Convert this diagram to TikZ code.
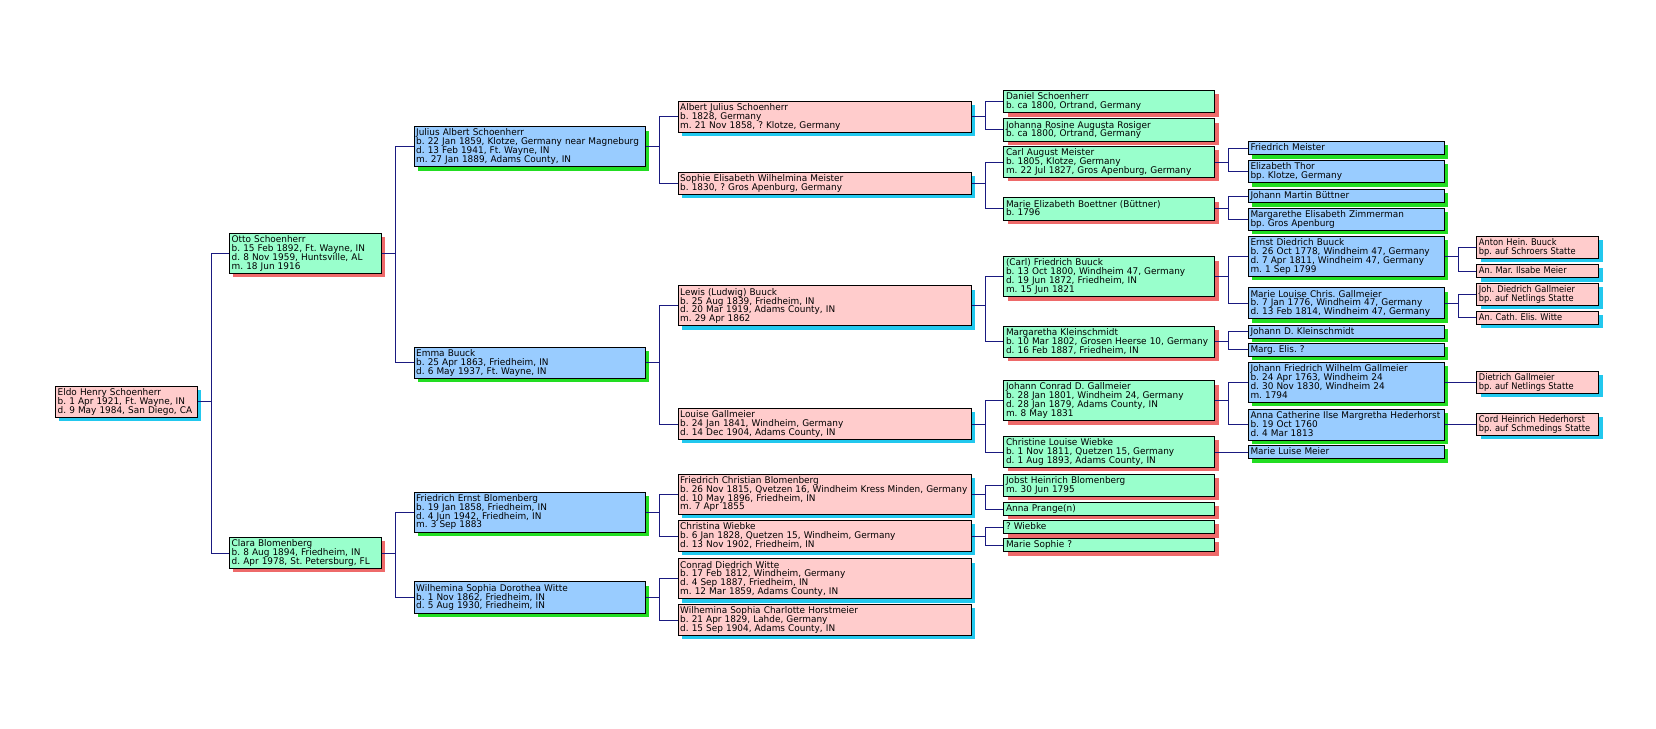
\documentclass[tikz,border=0pt]{standalone}
\usepackage{fontspec}
\newfontfamily\gen{DejaVu Sans}[FakeStretch=0.97]
\newfontfamily\genn{DejaVu Sans}[FakeStretch=0.90]
\usetikzlibrary{shadows}
\definecolor{pinkf}{HTML}{FFCCCC}
\definecolor{bluef}{HTML}{99CCFF}
\definecolor{greenf}{HTML}{99FFCC}
\definecolor{cyans}{HTML}{22C8EE}
\definecolor{greens}{HTML}{22DD22}
\definecolor{reds}{HTML}{EE6A6A}
\definecolor{connc}{HTML}{1A1A80}
\newcommand\famline[3]{%
  \draw[conn] (#1.east) -- ++(13.5pt,0);
  \draw[conn] (#2.west) -| ([xshift=13.5pt]#1.east) |- (#3.west);}
\newcommand\oneline[2]{\draw[conn] (#1.east) -- (#1.east -| #2.west);}
\newcommand\pl[1]{\mbox{#1}}
\tikzset{
  person/.style={rectangle, draw=black, line width=1pt, anchor=north west,
    inner xsep=2.2pt, inner ysep=2.2pt, align=left,
    font=\gen\fontsize{9.2}{8.9}\selectfont\frenchspacing,
    execute at begin node={\lineskiplimit=-20pt\lineskip=0pt\rule[-1.9pt]{0pt}{8.9pt}},
    execute at end node={\rule[-1.9pt]{0pt}{8.9pt}}},
  pk/.style={person, fill=pinkf, general shadow={fill=cyans, shadow xshift=3.8pt, shadow yshift=-3.8pt}},
  bl/.style={person, fill=bluef, general shadow={fill=greens, shadow xshift=3.8pt, shadow yshift=-3.8pt}},
  gr/.style={person, fill=greenf, general shadow={fill=reds, shadow xshift=3.8pt, shadow yshift=-3.8pt}},
  c1/.style={text width=137.3pt},
  c2/.style={text width=147.3pt},
  c3/.style={text width=226.9pt},
  c4/.style={text width=288.6pt},
  c5/.style={text width=206.6pt},
  c6/.style={text width=191.3pt},
  c7/.style={text width=117.8pt, font=\genn\fontsize{9.2}{8.9}\selectfont\frenchspacing},
  conn/.style={draw=connc, line width=0.9pt}
}
\begin{document}
\begin{tikzpicture}[x=1pt,y=-1pt]
\fill[white] (0,0) rectangle (1656,728);
\useasboundingbox (0,0) rectangle (1656,728);
% column 1
\node[pk,c1] (eldo) at (55,385.8) {\pl{Eldo Henry Schoenherr}\\\pl{b. 1 Apr 1921, Ft. Wayne, IN}\\\pl{d. 9 May 1984, San Diego, CA}};
% column 2
\node[gr,c2] (otto) at (229,232.7) {\pl{Otto Schoenherr}\\\pl{b. 15 Feb 1892, Ft. Wayne, IN}\\\pl{d. 8 Nov 1959, Huntsville, AL}\\\pl{m. 18 Jun 1916}};
\node[gr,c2] (clara) at (229,537) {\pl{Clara Blomenberg}\\\pl{b. 8 Aug 1894, Friedheim, IN}\\\pl{d. Apr 1978, St. Petersburg, FL}};
% column 3
\node[bl,c3] (julius) at (413.5,126.2) {\pl{Julius Albert Schoenherr}\\\pl{b. 22 Jan 1859, Klotze, Germany near Magneburg}\\\pl{d. 13 Feb 1941, Ft. Wayne, IN}\\\pl{m. 27 Jan 1889, Adams County, IN}};
\node[bl,c3] (emma) at (413.5,346.8) {\pl{Emma Buuck}\\\pl{b. 25 Apr 1863, Friedheim, IN}\\\pl{d. 6 May 1937, Ft. Wayne, IN}};
\node[bl,c3] (feb) at (413.5,491.5) {\pl{Friedrich Ernst Blomenberg}\\\pl{b. 19 Jan 1858, Friedheim, IN}\\\pl{d. 4 Jun 1942, Friedheim, IN}\\\pl{m. 3 Sep 1883}};
\node[bl,c3] (wsdw) at (413.5,581.4) {\pl{Wilhemina Sophia Dorothea Witte}\\\pl{b. 1 Nov 1862, Friedheim, IN}\\\pl{d. 5 Aug 1930, Friedheim, IN}};
% column 4
\node[pk,c4] (albert) at (677.5,100.5) {\pl{Albert Julius Schoenherr}\\\pl{b. 1828, Germany}\\\pl{m. 21 Nov 1858, ? Klotze, Germany}};
\node[pk,c4] (sophie) at (677.5,171.5) {\pl{Sophie Elisabeth Wilhelmina Meister}\\\pl{b. 1830, ? Gros Apenburg, Germany}};
\node[pk,c4] (lewis) at (677.5,285.4) {\pl{Lewis (Ludwig) Buuck}\\\pl{b. 25 Aug 1839, Friedheim, IN}\\\pl{d. 20 Mar 1919, Adams County, IN}\\\pl{m. 29 Apr 1862}};
\node[pk,c4] (louise) at (677.5,408) {\pl{Louise Gallmeier}\\\pl{b. 24 Jan 1841, Windheim, Germany}\\\pl{d. 14 Dec 1904, Adams County, IN}};
\node[pk,c4] (fcb) at (677.5,473.5) {\pl{Friedrich Christian Blomenberg}\\\pl{b. 26 Nov 1815, Qvetzen 16, Windheim Kress Minden, Germany}\\\pl{d. 10 May 1896, Friedheim, IN}\\\pl{m. 7 Apr 1855}};
\node[pk,c4] (christina) at (677.5,520) {\pl{Christina Wiebke}\\\pl{b. 6 Jan 1828, Quetzen 15, Windheim, Germany}\\\pl{d. 13 Nov 1902, Friedheim, IN}};
\node[pk,c4] (conrad) at (677.5,558.3) {\pl{Conrad Diedrich Witte}\\\pl{b. 17 Feb 1812, Windheim, Germany}\\\pl{d. 4 Sep 1887, Friedheim, IN}\\\pl{m. 12 Mar 1859, Adams County, IN}};
\node[pk,c4] (wsch) at (677.5,604) {\pl{Wilhemina Sophia Charlotte Horstmeier}\\\pl{b. 21 Apr 1829, Lahde, Germany}\\\pl{d. 15 Sep 1904, Adams County, IN}};
% column 5
\node[gr,c5] (daniel) at (1003.3,90) {\pl{Daniel Schoenherr}\\\pl{b. ca 1800, Ortrand, Germany}};
\node[gr,c5] (johanna) at (1003.3,118.3) {\pl{Johanna Rosine Augusta Rosiger}\\\pl{b. ca 1800, Ortrand, Germany}};
\node[gr,c5] (carl) at (1003.3,146) {\pl{Carl August Meister}\\\pl{b. 1805, Klotze, Germany}\\\pl{m. 22 Jul 1827, Gros Apenburg, Germany}};
\node[gr,c5] (meb) at (1003.3,197.3) {\pl{Marie Elizabeth Boettner (Büttner)}\\\pl{b. 1796}};
\node[gr,c5] (cfb) at (1003.3,256.2) {\pl{(Carl) Friedrich Buuck}\\\pl{b. 13 Oct 1800, Windheim 47, Germany}\\\pl{d. 19 Jun 1872, Friedheim, IN}\\\pl{m. 15 Jun 1821}};
\node[gr,c5] (mk) at (1003.3,325.6) {\pl{Margaretha Kleinschmidt}\\\pl{b. 10 Mar 1802, Grosen Heerse 10, Germany}\\\pl{d. 16 Feb 1887, Friedheim, IN}};
\node[gr,c5] (jcdg) at (1003.3,380.2) {\pl{Johann Conrad D. Gallmeier}\\\pl{b. 28 Jan 1801, Windheim 24, Germany}\\\pl{d. 28 Jan 1879, Adams County, IN}\\\pl{m. 8 May 1831}};
\node[gr,c5] (clw) at (1003.3,436) {\pl{Christine Louise Wiebke}\\\pl{b. 1 Nov 1811, Quetzen 15, Germany}\\\pl{d. 1 Aug 1893, Adams County, IN}};
\node[gr,c5] (jhb) at (1003.3,473.8) {\pl{Jobst Heinrich Blomenberg}\\\pl{m. 30 Jun 1795}};
\node[gr,c5] (ap) at (1003.3,501.8) {\pl{Anna Prange(n)}};
\node[gr,c5] (qw) at (1003.3,520) {\pl{? Wiebke}};
\node[gr,c5] (ms) at (1003.3,538) {\pl{Marie Sophie ?}};
% column 6
\node[bl,c6] (fm) at (1247.8,141) {\pl{Friedrich Meister}};
\node[bl,c6] (et) at (1247.8,160) {\pl{Elizabeth Thor}\\\pl{bp. Klotze, Germany}};
\node[bl,c6] (jmb) at (1247.8,189) {\pl{Johann Martin Büttner}};
\node[bl,c6] (mez) at (1247.8,207.7) {\pl{Margarethe Elisabeth Zimmerman}\\\pl{bp. Gros Apenburg}};
\node[bl,c6] (edb) at (1247.8,235.7) {\pl{Ernst Diedrich Buuck}\\\pl{b. 26 Oct 1778, Windheim 47, Germany}\\\pl{d. 7 Apr 1811, Windheim 47, Germany}\\\pl{m. 1 Sep 1799}};
\node[bl,c6] (mlcg) at (1247.8,287.3) {\pl{Marie Louise Chris. Gallmeier}\\\pl{b. 7 Jan 1776, Windheim 47, Germany}\\\pl{d. 13 Feb 1814, Windheim 47, Germany}};
\node[bl,c6] (jdk) at (1247.8,324.5) {\pl{Johann D. Kleinschmidt}};
\node[bl,c6] (mea) at (1247.8,342.5) {\pl{Marg. Elis. ?}};
\node[bl,c6] (jfwg) at (1247.8,362) {\pl{Johann Friedrich Wilhelm Gallmeier}\\\pl{b. 24 Apr 1763, Windheim 24}\\\pl{d. 30 Nov 1830, Windheim 24}\\\pl{m. 1794}};
\node[bl,c6] (acih) at (1247.8,408.5) {\pl{Anna Catherine Ilse Margretha Hederhorst}\\\pl{b. 19 Oct 1760}\\\pl{d. 4 Mar 1813}};
\node[bl,c6] (mlm) at (1247.8,444.9) {\pl{Marie Luise Meier}};
% column 7
\node[pk,c7] (ahb) at (1476.2,235.7) {\pl{Anton Hein. Buuck}\\\pl{bp. auf Schroers Statte}};
\node[pk,c7] (amim) at (1476.2,264) {\pl{An. Mar. Ilsabe Meier}};
\node[pk,c7] (jdg) at (1476.2,282.7) {\pl{Joh. Diedrich Gallmeier}\\\pl{bp. auf Netlings Statte}};
\node[pk,c7] (acew) at (1476.2,310.7) {\pl{An. Cath. Elis. Witte}};
\node[pk,c7] (dg) at (1476.2,370.9) {\pl{Dietrich Gallmeier}\\\pl{bp. auf Netlings Statte}};
\node[pk,c7] (chh) at (1476.2,412.95) {\pl{Cord Heinrich Hederhorst}\\\pl{bp. auf Schmedings Statte}};
% connectors
\famline{eldo}{otto}{clara}
\famline{otto}{julius}{emma}
\famline{clara}{feb}{wsdw}
\famline{julius}{albert}{sophie}
\famline{emma}{lewis}{louise}
\famline{feb}{fcb}{christina}
\famline{wsdw}{conrad}{wsch}
\famline{albert}{daniel}{johanna}
\famline{sophie}{carl}{meb}
\famline{lewis}{cfb}{mk}
\famline{louise}{jcdg}{clw}
\famline{fcb}{jhb}{ap}
\famline{christina}{qw}{ms}
\famline{carl}{fm}{et}
\famline{meb}{jmb}{mez}
\famline{cfb}{edb}{mlcg}
\famline{mk}{jdk}{mea}
\famline{jcdg}{jfwg}{acih}
\oneline{clw}{mlm}
\famline{edb}{ahb}{amim}
\famline{mlcg}{jdg}{acew}
\oneline{jfwg}{dg}
\oneline{acih}{chh}
\end{tikzpicture}
\end{document}
